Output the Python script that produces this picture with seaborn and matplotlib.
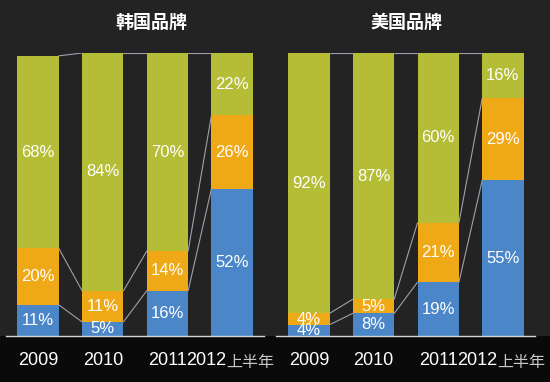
import pandas as pd
import seaborn as sns
import matplotlib.pyplot as plt
from matplotlib.patches import Rectangle
from matplotlib.transforms import blended_transform_factory

# --- Data (percent shares per year) ---
years = ['2009', '2010', '2011', '2012上半年']
kr_blue = [11, 5, 16, 52]
kr_orange = [20, 11, 14, 26]
kr_olive = [68, 84, 70, 22]
us_blue = [4, 8, 19, 55]
us_orange = [4, 5, 21, 29]
us_olive = [92, 87, 60, 16]

BLUE = '#4a86c8'
ORANGE = '#efa916'
OLIVE = '#b4bd35'
LINK = '#a0a0ae'
BAR_W = 0.64

sns.set_theme(style='white')
plt.rcParams['font.family'] = ['Liberation Sans', 'Noto Sans CJK SC']

fig = plt.figure(figsize=(5.5, 3.82), dpi=100, facecolor='#0a0a0a')
# dark gray backdrop above the baseline
fig.patches.append(Rectangle((0, 0.1204), 1, 1, transform=fig.transFigure,
                             facecolor='#232323', edgecolor='none', zorder=-1))


def draw_panel(ax, title, title_x, blue, orange, olive):
    df = pd.DataFrame({'year': years, 'blue': blue, 'orange': orange, 'olive': olive})
    df['c1'] = df['blue']
    df['c2'] = df['blue'] + df['orange']
    df['c3'] = df['c2'] + df['olive']

    # stacked bars drawn as overlapping cumulative bars
    for col, color in [('c3', OLIVE), ('c2', ORANGE), ('c1', BLUE)]:
        sns.barplot(data=df, x='year', y=col, color=color, width=BAR_W,
                    saturation=1, errorbar=None, linewidth=0, ax=ax)

    # thin connector lines between segment boundaries
    half = BAR_W / 2
    for col in ['c1', 'c2', 'c3']:
        vals = df[col].tolist()
        for i in range(len(vals) - 1):
            ax.plot([i + half, i + 1 - half], [vals[i], vals[i + 1]],
                    color=LINK, lw=0.8, zorder=1)

    # segment labels
    for i, row in df.iterrows():
        bottom = 0
        for col in ['blue', 'orange', 'olive']:
            v = row[col]
            ax.text(i, bottom + v / 2, f'{v}%', color='white', fontsize=12,
                    ha='center', va='center', zorder=5)
            bottom += v

    ax.set_xlim(-0.5, 3.5)
    ax.set_ylim(0, 100)
    ax.set_facecolor('none')
    ax.set_xlabel('')
    ax.set_ylabel('')
    ax.set_yticks([])
    ax.set_xticks([])
    for s in ['top', 'left', 'right']:
        ax.spines[s].set_visible(False)
    ax.spines['bottom'].set_color('#d8d8d8')
    ax.spines['bottom'].set_linewidth(1)

    # year labels under the bars
    tr = blended_transform_factory(ax.transData, ax.transAxes)
    ty = -0.087
    for i, y in enumerate(years[:3]):
        ax.text(i, ty, y, color='white', fontsize=13, ha='center', va='center',
                transform=tr, clip_on=False)
    split = 3 - 0.085
    ax.text(split, ty, '2012', color='white', fontsize=13, ha='right', va='center',
            transform=tr, clip_on=False)
    ax.text(split, ty - 0.005, '上半年', color='#c8c8c8', fontsize=11.5, ha='left',
            va='center', transform=tr, clip_on=False,
            family=['Noto Sans CJK SC', 'DejaVu Sans'], fontweight='light')

    fig.text(title_x, 1 - 22 / 382, title, color='white', fontsize=13,
             fontweight='bold', ha='center', va='center',
             family=['Noto Sans CJK SC', 'DejaVu Sans'])


ax1 = fig.add_axes([0.0104, 0.1204, 0.4705, 0.7408])
ax2 = fig.add_axes([0.5027, 0.1204, 0.4705, 0.7408])
draw_panel(ax1, '韩国品牌', 151.7 / 550, kr_blue, kr_orange, kr_olive)
draw_panel(ax2, '美国品牌', 406.7 / 550, us_blue, us_orange, us_olive)

fig.savefig('out.png', dpi=100, facecolor=fig.get_facecolor())
